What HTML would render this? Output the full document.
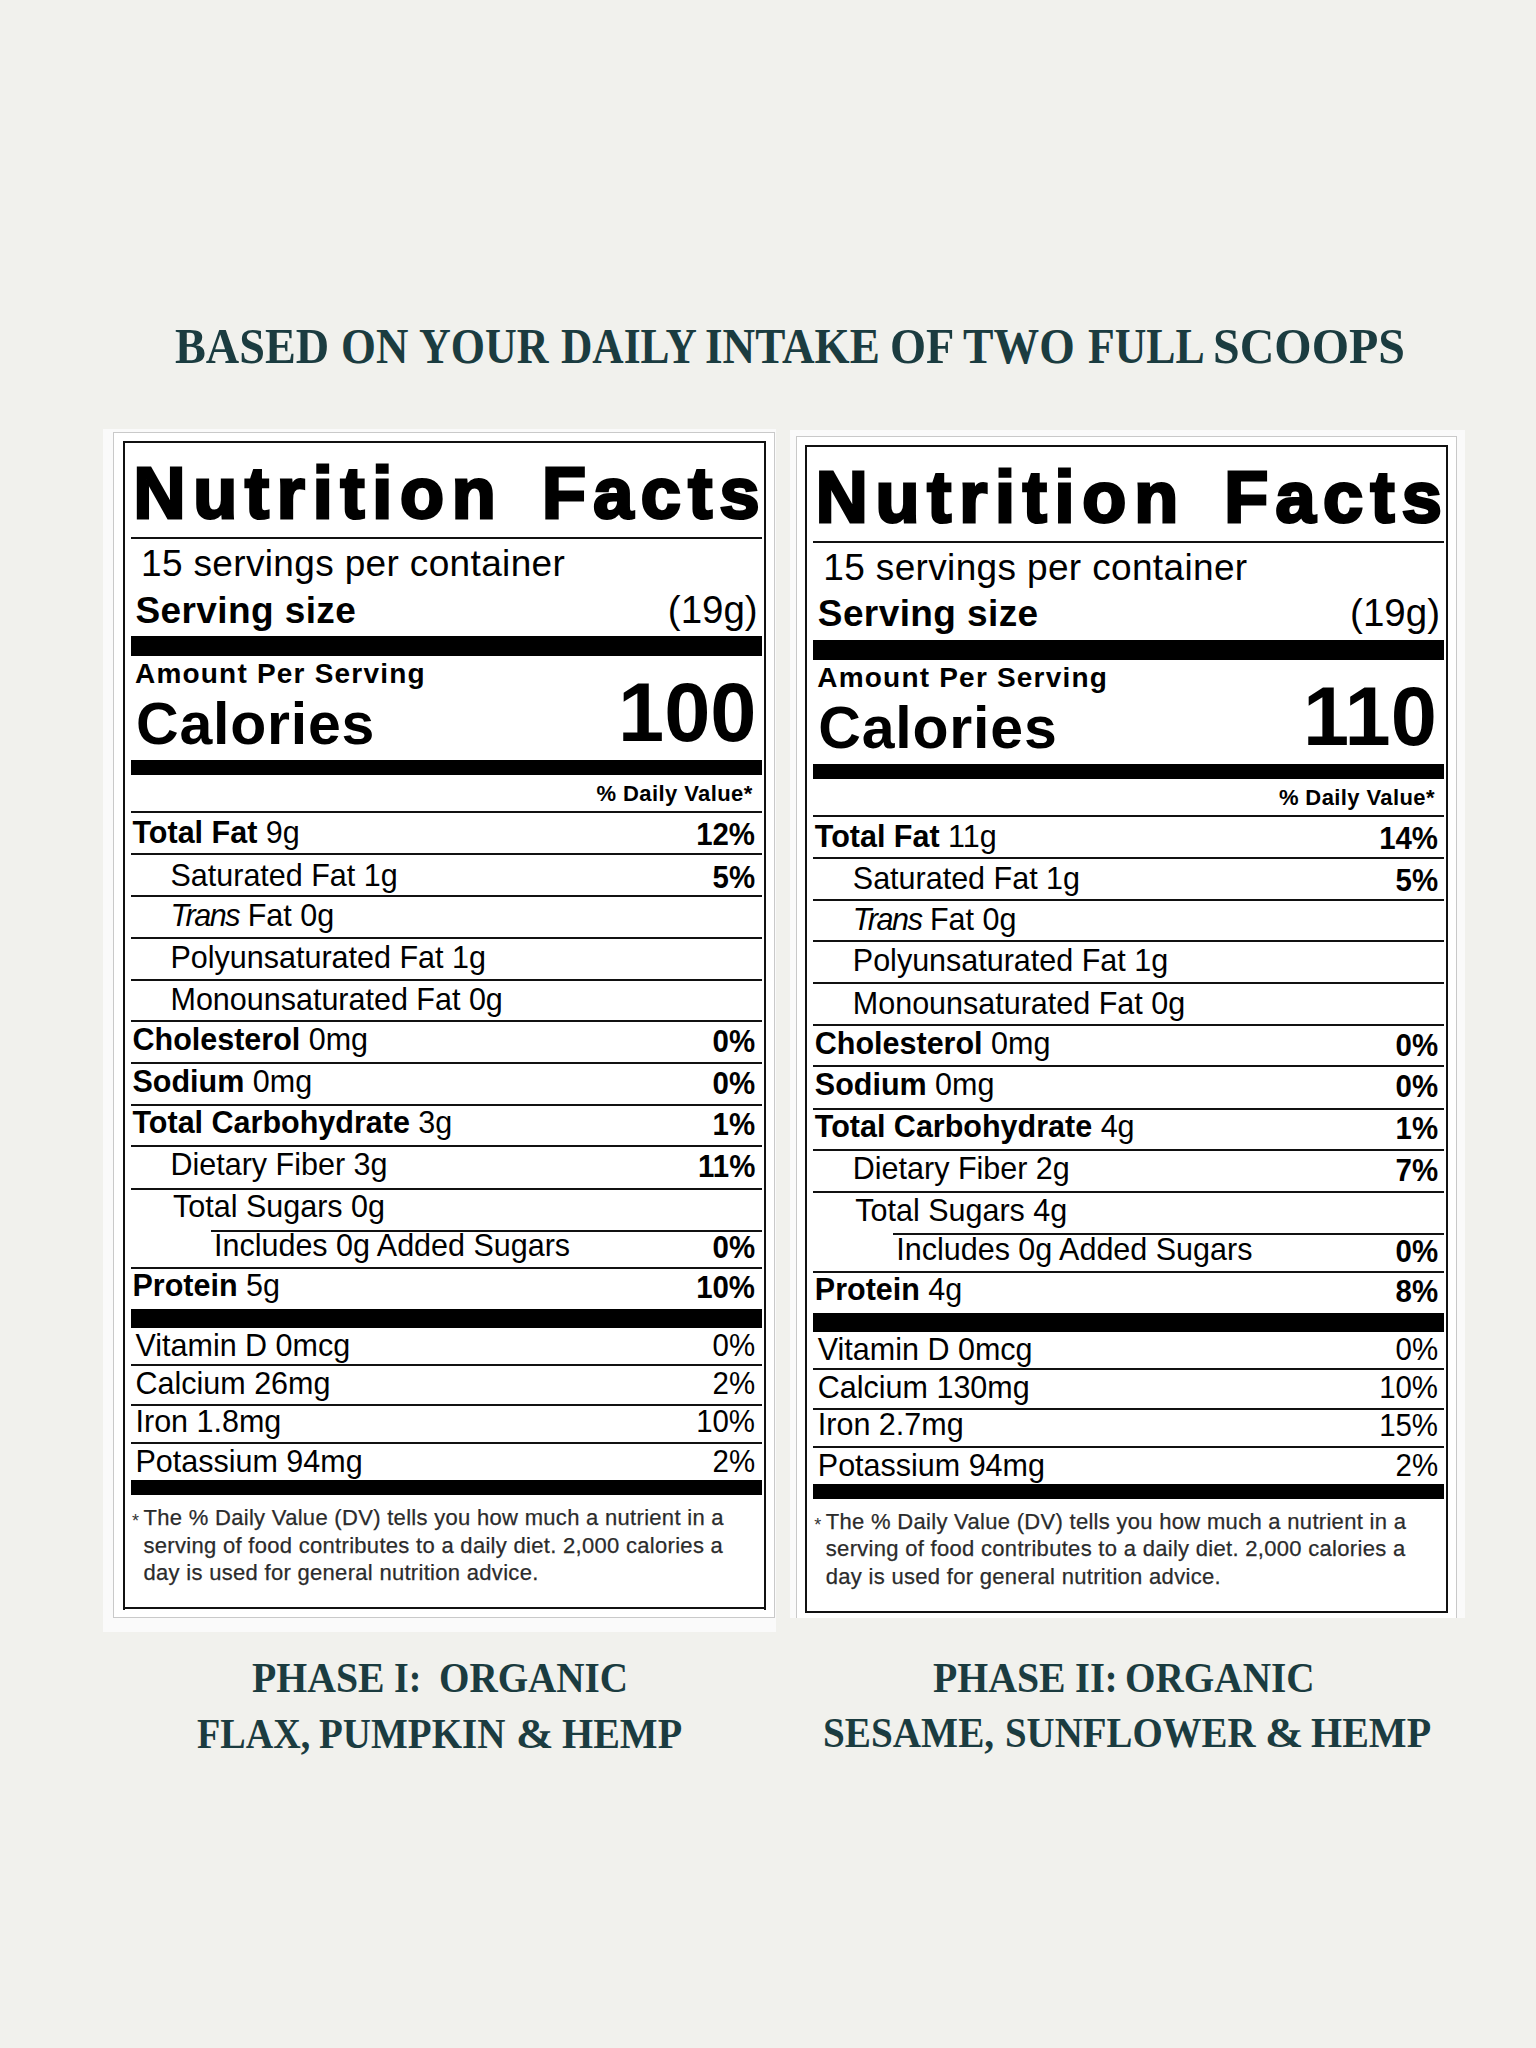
<!DOCTYPE html>
<html><head><meta charset="utf-8"><style>
html,body{margin:0;padding:0;}
body{width:1536px;height:2048px;background:#f1f1ed;position:relative;overflow:hidden;}
b{font-weight:bold;}
i{letter-spacing:-1.4px;}
</style></head><body>
<div style="position:absolute;left:103px;top:429px;width:673px;height:1203px;background:#fafafa;"></div>
<div style="position:absolute;left:113px;top:432px;width:662px;height:1186px;background:transparent;box-sizing:border-box;border:1.5px solid #c9c9c9;background:#fff;"></div>
<div style="position:absolute;left:789.5px;top:429.5px;width:675px;height:1188.5px;background:#fafafa;"></div>
<div style="position:absolute;left:795.5px;top:435.5px;width:661.5px;height:1182.5px;background:transparent;box-sizing:border-box;border:1.5px solid #c9c9c9;border-bottom:none;background:#fff;"></div>
<div style="position:absolute;left:122.5px;top:441px;width:643.5px;height:2.3px;background:#111;"></div>
<div style="position:absolute;left:122.5px;top:1607.2px;width:643.5px;height:2.3px;background:#111;"></div>
<div style="position:absolute;left:122.5px;top:441px;width:2.3px;height:1168.5px;background:#111;"></div>
<div style="position:absolute;left:763.7px;top:441px;width:2.3px;height:1168.5px;background:#111;"></div>
<div style="position:absolute;left:133.5px;top:457.20px;font-family:'Liberation Sans', sans-serif;font-size:72px;line-height:1;font-weight:bold;color:#000;white-space:pre;-webkit-text-stroke:3px #000;letter-spacing:7.8px;">Nutrition</div>
<div style="position:absolute;right:769px;top:457.20px;font-family:'Liberation Sans', sans-serif;font-size:72px;line-height:1;font-weight:bold;color:#000;white-space:pre;-webkit-text-stroke:3px #000;letter-spacing:7.4px;">Facts</div>
<div style="position:absolute;left:130.7px;top:536.7px;width:631.0px;height:2.0px;background:#111;"></div>
<div style="position:absolute;left:141px;top:545.15px;font-family:'Liberation Sans', sans-serif;font-size:37px;line-height:1;font-weight:normal;color:#000;white-space:pre;letter-spacing:0.35px;">15 servings per container</div>
<div style="position:absolute;left:135.5px;top:591.55px;font-family:'Liberation Sans', sans-serif;font-size:37px;line-height:1;font-weight:bold;color:#000;white-space:pre;letter-spacing:0.4px;">Serving size</div>
<div style="position:absolute;right:778.3px;top:590.57px;font-family:'Liberation Sans', sans-serif;font-size:38.5px;line-height:1;font-weight:normal;color:#000;white-space:pre;">(19g)</div>
<div style="position:absolute;left:130.7px;top:636.2px;width:631.0px;height:19.5px;background:#000;"></div>
<div style="position:absolute;left:135px;top:659.80px;font-family:'Liberation Sans', sans-serif;font-size:28px;line-height:1;font-weight:bold;color:#000;white-space:pre;letter-spacing:1.2px;">Amount Per Serving</div>
<div style="position:absolute;left:136px;top:695.35px;font-family:'Liberation Sans', sans-serif;font-size:59px;line-height:1;font-weight:bold;color:#000;white-space:pre;letter-spacing:0.8px;">Calories</div>
<div style="position:absolute;right:779.5px;top:670.85px;font-family:'Liberation Sans', sans-serif;font-size:83px;line-height:1;font-weight:bold;color:#000;white-space:pre;">100</div>
<div style="position:absolute;left:130.7px;top:760px;width:631.0px;height:15.399999999999977px;background:#000;"></div>
<div style="position:absolute;right:783.4px;top:782.70px;font-family:'Liberation Sans', sans-serif;font-size:22px;line-height:1;font-weight:bold;color:#000;white-space:pre;letter-spacing:0.4px;">% Daily Value*</div>
<div style="position:absolute;left:130.7px;top:811.3px;width:631.0px;height:2.0px;background:#111;"></div>
<div style="position:absolute;left:130.7px;top:853.2px;width:631.0px;height:2.0px;background:#111;"></div>
<div style="position:absolute;left:130.7px;top:894.9px;width:631.0px;height:2.0px;background:#111;"></div>
<div style="position:absolute;left:130.7px;top:936.6px;width:631.0px;height:2.0px;background:#111;"></div>
<div style="position:absolute;left:130.7px;top:978.6px;width:631.0px;height:2.0px;background:#111;"></div>
<div style="position:absolute;left:130.7px;top:1020.4px;width:631.0px;height:2.0px;background:#111;"></div>
<div style="position:absolute;left:130.7px;top:1061.5px;width:631.0px;height:2.0px;background:#111;"></div>
<div style="position:absolute;left:130.7px;top:1103.8px;width:631.0px;height:2.0px;background:#111;"></div>
<div style="position:absolute;left:130.7px;top:1145.3px;width:631.0px;height:2.0px;background:#111;"></div>
<div style="position:absolute;left:130.7px;top:1187.6px;width:631.0px;height:2.0px;background:#111;"></div>
<div style="position:absolute;left:211px;top:1229.5px;width:550.7px;height:2.0px;background:#111;"></div>
<div style="position:absolute;left:130.7px;top:1267.0px;width:631.0px;height:2.0px;background:#111;"></div>
<div style="position:absolute;left:130.7px;top:1309.1px;width:631.0px;height:19.0px;background:#000;"></div>
<div style="position:absolute;left:130.7px;top:1364.2px;width:631.0px;height:2.0px;background:#111;"></div>
<div style="position:absolute;left:130.7px;top:1404.4px;width:631.0px;height:2.0px;background:#111;"></div>
<div style="position:absolute;left:130.7px;top:1441.8px;width:631.0px;height:2.0px;background:#111;"></div>
<div style="position:absolute;left:130.7px;top:1480.2px;width:631.0px;height:15.099999999999909px;background:#000;"></div>
<div style="position:absolute;left:132.5px;top:817.38px;font-family:'Liberation Sans', sans-serif;font-size:30.5px;line-height:1;font-weight:normal;color:#000;white-space:pre;"><b>Total Fat</b> 9g</div>
<div style="position:absolute;right:780.5px;top:819.38px;font-family:'Liberation Sans', sans-serif;font-size:30.5px;line-height:1;font-weight:bold;color:#000;white-space:pre;transform:scaleX(0.965);transform-origin:right top;">12%</div>
<div style="position:absolute;left:170.5px;top:859.58px;font-family:'Liberation Sans', sans-serif;font-size:30.5px;line-height:1;font-weight:normal;color:#000;white-space:pre;">Saturated Fat 1g</div>
<div style="position:absolute;right:780.5px;top:861.58px;font-family:'Liberation Sans', sans-serif;font-size:30.5px;line-height:1;font-weight:bold;color:#000;white-space:pre;transform:scaleX(0.965);transform-origin:right top;">5%</div>
<div style="position:absolute;left:170.5px;top:899.98px;font-family:'Liberation Sans', sans-serif;font-size:30.5px;line-height:1;font-weight:normal;color:#000;white-space:pre;"><i>Trans</i> Fat 0g</div>
<div style="position:absolute;left:170.5px;top:941.68px;font-family:'Liberation Sans', sans-serif;font-size:30.5px;line-height:1;font-weight:normal;color:#000;white-space:pre;">Polyunsaturated Fat 1g</div>
<div style="position:absolute;left:170.5px;top:984.08px;font-family:'Liberation Sans', sans-serif;font-size:30.5px;line-height:1;font-weight:normal;color:#000;white-space:pre;">Monounsaturated Fat 0g</div>
<div style="position:absolute;left:132.5px;top:1024.38px;font-family:'Liberation Sans', sans-serif;font-size:30.5px;line-height:1;font-weight:normal;color:#000;white-space:pre;"><b>Cholesterol</b> 0mg</div>
<div style="position:absolute;right:780.5px;top:1026.38px;font-family:'Liberation Sans', sans-serif;font-size:30.5px;line-height:1;font-weight:bold;color:#000;white-space:pre;transform:scaleX(0.965);transform-origin:right top;">0%</div>
<div style="position:absolute;left:132.5px;top:1065.67px;font-family:'Liberation Sans', sans-serif;font-size:30.5px;line-height:1;font-weight:normal;color:#000;white-space:pre;"><b>Sodium</b> 0mg</div>
<div style="position:absolute;right:780.5px;top:1067.67px;font-family:'Liberation Sans', sans-serif;font-size:30.5px;line-height:1;font-weight:bold;color:#000;white-space:pre;transform:scaleX(0.965);transform-origin:right top;">0%</div>
<div style="position:absolute;left:132.5px;top:1107.38px;font-family:'Liberation Sans', sans-serif;font-size:30.5px;line-height:1;font-weight:normal;color:#000;white-space:pre;"><b>Total Carbohydrate</b> 3g</div>
<div style="position:absolute;right:780.5px;top:1109.38px;font-family:'Liberation Sans', sans-serif;font-size:30.5px;line-height:1;font-weight:bold;color:#000;white-space:pre;transform:scaleX(0.965);transform-origin:right top;">1%</div>
<div style="position:absolute;left:170.5px;top:1149.38px;font-family:'Liberation Sans', sans-serif;font-size:30.5px;line-height:1;font-weight:normal;color:#000;white-space:pre;">Dietary Fiber 3g</div>
<div style="position:absolute;right:780.5px;top:1151.38px;font-family:'Liberation Sans', sans-serif;font-size:30.5px;line-height:1;font-weight:bold;color:#000;white-space:pre;transform:scaleX(0.965);transform-origin:right top;">11%</div>
<div style="position:absolute;left:170.5px;top:1191.08px;font-family:'Liberation Sans', sans-serif;font-size:30.5px;line-height:1;font-weight:normal;color:#000;white-space:pre;"><span style="margin-left:2.5px"></span>Total Sugars 0g</div>
<div style="position:absolute;left:214px;top:1230.08px;font-family:'Liberation Sans', sans-serif;font-size:30.5px;line-height:1;font-weight:normal;color:#000;white-space:pre;">Includes 0g Added Sugars</div>
<div style="position:absolute;right:780.5px;top:1232.08px;font-family:'Liberation Sans', sans-serif;font-size:30.5px;line-height:1;font-weight:bold;color:#000;white-space:pre;transform:scaleX(0.965);transform-origin:right top;">0%</div>
<div style="position:absolute;left:132.5px;top:1270.08px;font-family:'Liberation Sans', sans-serif;font-size:30.5px;line-height:1;font-weight:normal;color:#000;white-space:pre;"><b>Protein</b> 5g</div>
<div style="position:absolute;right:780.5px;top:1272.08px;font-family:'Liberation Sans', sans-serif;font-size:30.5px;line-height:1;font-weight:bold;color:#000;white-space:pre;transform:scaleX(0.965);transform-origin:right top;">10%</div>
<div style="position:absolute;left:135.5px;top:1330.08px;font-family:'Liberation Sans', sans-serif;font-size:30.5px;line-height:1;font-weight:normal;color:#000;white-space:pre;">Vitamin D 0mcg</div>
<div style="position:absolute;right:780.5px;top:1330.38px;font-family:'Liberation Sans', sans-serif;font-size:30.5px;line-height:1;font-weight:normal;color:#000;white-space:pre;transform:scaleX(0.965);transform-origin:right top;">0%</div>
<div style="position:absolute;left:135.5px;top:1367.88px;font-family:'Liberation Sans', sans-serif;font-size:30.5px;line-height:1;font-weight:normal;color:#000;white-space:pre;">Calcium 26mg</div>
<div style="position:absolute;right:780.5px;top:1368.17px;font-family:'Liberation Sans', sans-serif;font-size:30.5px;line-height:1;font-weight:normal;color:#000;white-space:pre;transform:scaleX(0.965);transform-origin:right top;">2%</div>
<div style="position:absolute;left:135.5px;top:1405.58px;font-family:'Liberation Sans', sans-serif;font-size:30.5px;line-height:1;font-weight:normal;color:#000;white-space:pre;">Iron 1.8mg</div>
<div style="position:absolute;right:780.5px;top:1405.88px;font-family:'Liberation Sans', sans-serif;font-size:30.5px;line-height:1;font-weight:normal;color:#000;white-space:pre;transform:scaleX(0.965);transform-origin:right top;">10%</div>
<div style="position:absolute;left:135.5px;top:1445.98px;font-family:'Liberation Sans', sans-serif;font-size:30.5px;line-height:1;font-weight:normal;color:#000;white-space:pre;">Potassium 94mg</div>
<div style="position:absolute;right:780.5px;top:1446.28px;font-family:'Liberation Sans', sans-serif;font-size:30.5px;line-height:1;font-weight:normal;color:#000;white-space:pre;transform:scaleX(0.965);transform-origin:right top;">2%</div>
<div style="position:absolute;left:132px;top:1511.70px;font-family:'Liberation Sans', sans-serif;font-size:18px;line-height:1;font-weight:normal;color:#333;white-space:pre;">*</div>
<div style="position:absolute;left:143.5px;top:1506.70px;font-family:'Liberation Sans', sans-serif;font-size:22px;line-height:1;font-weight:normal;color:#2b2b2b;white-space:pre;letter-spacing:0.3px;-webkit-text-stroke:0.25px #2b2b2b;">The % Daily Value (DV) tells you how much a nutrient in a</div>
<div style="position:absolute;left:143.5px;top:1534.60px;font-family:'Liberation Sans', sans-serif;font-size:22px;line-height:1;font-weight:normal;color:#2b2b2b;white-space:pre;letter-spacing:0.3px;-webkit-text-stroke:0.25px #2b2b2b;">serving of food contributes to a daily diet. 2,000 calories a</div>
<div style="position:absolute;left:143.5px;top:1562.30px;font-family:'Liberation Sans', sans-serif;font-size:22px;line-height:1;font-weight:normal;color:#2b2b2b;white-space:pre;letter-spacing:0.3px;-webkit-text-stroke:0.25px #2b2b2b;">day is used for general nutrition advice.</div>
<div style="position:absolute;left:804.8px;top:444.8px;width:643.5px;height:2.3px;background:#111;"></div>
<div style="position:absolute;left:804.8px;top:1611.0px;width:643.5px;height:2.3px;background:#111;"></div>
<div style="position:absolute;left:804.8px;top:444.8px;width:2.3px;height:1168.5px;background:#111;"></div>
<div style="position:absolute;left:1446.0px;top:444.8px;width:2.3px;height:1168.5px;background:#111;"></div>
<div style="position:absolute;left:815.8px;top:461.00px;font-family:'Liberation Sans', sans-serif;font-size:72px;line-height:1;font-weight:bold;color:#000;white-space:pre;-webkit-text-stroke:3px #000;letter-spacing:7.8px;">Nutrition</div>
<div style="position:absolute;right:86.70000000000005px;top:461.00px;font-family:'Liberation Sans', sans-serif;font-size:72px;line-height:1;font-weight:bold;color:#000;white-space:pre;-webkit-text-stroke:3px #000;letter-spacing:7.4px;">Facts</div>
<div style="position:absolute;left:813.0px;top:540.5px;width:631.0px;height:2.0px;background:#111;"></div>
<div style="position:absolute;left:823.3px;top:548.95px;font-family:'Liberation Sans', sans-serif;font-size:37px;line-height:1;font-weight:normal;color:#000;white-space:pre;letter-spacing:0.35px;">15 servings per container</div>
<div style="position:absolute;left:817.8px;top:595.35px;font-family:'Liberation Sans', sans-serif;font-size:37px;line-height:1;font-weight:bold;color:#000;white-space:pre;letter-spacing:0.4px;">Serving size</div>
<div style="position:absolute;right:96.0px;top:594.37px;font-family:'Liberation Sans', sans-serif;font-size:38.5px;line-height:1;font-weight:normal;color:#000;white-space:pre;">(19g)</div>
<div style="position:absolute;left:813.0px;top:640.0px;width:631.0px;height:19.5px;background:#000;"></div>
<div style="position:absolute;left:817.3px;top:663.60px;font-family:'Liberation Sans', sans-serif;font-size:28px;line-height:1;font-weight:bold;color:#000;white-space:pre;letter-spacing:1.2px;">Amount Per Serving</div>
<div style="position:absolute;left:818.3px;top:699.15px;font-family:'Liberation Sans', sans-serif;font-size:59px;line-height:1;font-weight:bold;color:#000;white-space:pre;letter-spacing:0.8px;">Calories</div>
<div style="position:absolute;right:99.20000000000005px;top:674.65px;font-family:'Liberation Sans', sans-serif;font-size:83px;line-height:1;font-weight:bold;color:#000;white-space:pre;">110</div>
<div style="position:absolute;left:813.0px;top:763.8px;width:631.0px;height:15.399999999999977px;background:#000;"></div>
<div style="position:absolute;right:101.09999999999991px;top:786.50px;font-family:'Liberation Sans', sans-serif;font-size:22px;line-height:1;font-weight:bold;color:#000;white-space:pre;letter-spacing:0.4px;">% Daily Value*</div>
<div style="position:absolute;left:813.0px;top:815.0999999999999px;width:631.0px;height:2.0px;background:#111;"></div>
<div style="position:absolute;left:813.0px;top:857.0px;width:631.0px;height:2.0px;background:#111;"></div>
<div style="position:absolute;left:813.0px;top:898.6999999999999px;width:631.0px;height:2.0px;background:#111;"></div>
<div style="position:absolute;left:813.0px;top:940.4px;width:631.0px;height:2.0px;background:#111;"></div>
<div style="position:absolute;left:813.0px;top:982.4px;width:631.0px;height:2.0px;background:#111;"></div>
<div style="position:absolute;left:813.0px;top:1024.2px;width:631.0px;height:2.0px;background:#111;"></div>
<div style="position:absolute;left:813.0px;top:1065.3px;width:631.0px;height:2.0px;background:#111;"></div>
<div style="position:absolute;left:813.0px;top:1107.6px;width:631.0px;height:2.0px;background:#111;"></div>
<div style="position:absolute;left:813.0px;top:1149.1px;width:631.0px;height:2.0px;background:#111;"></div>
<div style="position:absolute;left:813.0px;top:1191.3999999999999px;width:631.0px;height:2.0px;background:#111;"></div>
<div style="position:absolute;left:893.3px;top:1233.3px;width:550.7px;height:2.0px;background:#111;"></div>
<div style="position:absolute;left:813.0px;top:1270.8px;width:631.0px;height:2.0px;background:#111;"></div>
<div style="position:absolute;left:813.0px;top:1312.8999999999999px;width:631.0px;height:19.0px;background:#000;"></div>
<div style="position:absolute;left:813.0px;top:1368.0px;width:631.0px;height:2.0px;background:#111;"></div>
<div style="position:absolute;left:813.0px;top:1408.2px;width:631.0px;height:2.0px;background:#111;"></div>
<div style="position:absolute;left:813.0px;top:1445.6px;width:631.0px;height:2.0px;background:#111;"></div>
<div style="position:absolute;left:813.0px;top:1484.0px;width:631.0px;height:15.099999999999909px;background:#000;"></div>
<div style="position:absolute;left:814.8px;top:821.17px;font-family:'Liberation Sans', sans-serif;font-size:30.5px;line-height:1;font-weight:normal;color:#000;white-space:pre;"><b>Total Fat</b> 11g</div>
<div style="position:absolute;right:98.20000000000005px;top:823.17px;font-family:'Liberation Sans', sans-serif;font-size:30.5px;line-height:1;font-weight:bold;color:#000;white-space:pre;transform:scaleX(0.965);transform-origin:right top;">14%</div>
<div style="position:absolute;left:852.8px;top:863.38px;font-family:'Liberation Sans', sans-serif;font-size:30.5px;line-height:1;font-weight:normal;color:#000;white-space:pre;">Saturated Fat 1g</div>
<div style="position:absolute;right:98.20000000000005px;top:865.38px;font-family:'Liberation Sans', sans-serif;font-size:30.5px;line-height:1;font-weight:bold;color:#000;white-space:pre;transform:scaleX(0.965);transform-origin:right top;">5%</div>
<div style="position:absolute;left:852.8px;top:903.77px;font-family:'Liberation Sans', sans-serif;font-size:30.5px;line-height:1;font-weight:normal;color:#000;white-space:pre;"><i>Trans</i> Fat 0g</div>
<div style="position:absolute;left:852.8px;top:945.48px;font-family:'Liberation Sans', sans-serif;font-size:30.5px;line-height:1;font-weight:normal;color:#000;white-space:pre;">Polyunsaturated Fat 1g</div>
<div style="position:absolute;left:852.8px;top:987.88px;font-family:'Liberation Sans', sans-serif;font-size:30.5px;line-height:1;font-weight:normal;color:#000;white-space:pre;">Monounsaturated Fat 0g</div>
<div style="position:absolute;left:814.8px;top:1028.17px;font-family:'Liberation Sans', sans-serif;font-size:30.5px;line-height:1;font-weight:normal;color:#000;white-space:pre;"><b>Cholesterol</b> 0mg</div>
<div style="position:absolute;right:98.20000000000005px;top:1030.17px;font-family:'Liberation Sans', sans-serif;font-size:30.5px;line-height:1;font-weight:bold;color:#000;white-space:pre;transform:scaleX(0.965);transform-origin:right top;">0%</div>
<div style="position:absolute;left:814.8px;top:1069.47px;font-family:'Liberation Sans', sans-serif;font-size:30.5px;line-height:1;font-weight:normal;color:#000;white-space:pre;"><b>Sodium</b> 0mg</div>
<div style="position:absolute;right:98.20000000000005px;top:1071.47px;font-family:'Liberation Sans', sans-serif;font-size:30.5px;line-height:1;font-weight:bold;color:#000;white-space:pre;transform:scaleX(0.965);transform-origin:right top;">0%</div>
<div style="position:absolute;left:814.8px;top:1111.17px;font-family:'Liberation Sans', sans-serif;font-size:30.5px;line-height:1;font-weight:normal;color:#000;white-space:pre;"><b>Total Carbohydrate</b> 4g</div>
<div style="position:absolute;right:98.20000000000005px;top:1113.17px;font-family:'Liberation Sans', sans-serif;font-size:30.5px;line-height:1;font-weight:bold;color:#000;white-space:pre;transform:scaleX(0.965);transform-origin:right top;">1%</div>
<div style="position:absolute;left:852.8px;top:1153.17px;font-family:'Liberation Sans', sans-serif;font-size:30.5px;line-height:1;font-weight:normal;color:#000;white-space:pre;">Dietary Fiber 2g</div>
<div style="position:absolute;right:98.20000000000005px;top:1155.17px;font-family:'Liberation Sans', sans-serif;font-size:30.5px;line-height:1;font-weight:bold;color:#000;white-space:pre;transform:scaleX(0.965);transform-origin:right top;">7%</div>
<div style="position:absolute;left:852.8px;top:1194.88px;font-family:'Liberation Sans', sans-serif;font-size:30.5px;line-height:1;font-weight:normal;color:#000;white-space:pre;"><span style="margin-left:2.5px"></span>Total Sugars 4g</div>
<div style="position:absolute;left:896.3px;top:1233.88px;font-family:'Liberation Sans', sans-serif;font-size:30.5px;line-height:1;font-weight:normal;color:#000;white-space:pre;">Includes 0g Added Sugars</div>
<div style="position:absolute;right:98.20000000000005px;top:1235.88px;font-family:'Liberation Sans', sans-serif;font-size:30.5px;line-height:1;font-weight:bold;color:#000;white-space:pre;transform:scaleX(0.965);transform-origin:right top;">0%</div>
<div style="position:absolute;left:814.8px;top:1273.88px;font-family:'Liberation Sans', sans-serif;font-size:30.5px;line-height:1;font-weight:normal;color:#000;white-space:pre;"><b>Protein</b> 4g</div>
<div style="position:absolute;right:98.20000000000005px;top:1275.88px;font-family:'Liberation Sans', sans-serif;font-size:30.5px;line-height:1;font-weight:bold;color:#000;white-space:pre;transform:scaleX(0.965);transform-origin:right top;">8%</div>
<div style="position:absolute;left:817.8px;top:1333.88px;font-family:'Liberation Sans', sans-serif;font-size:30.5px;line-height:1;font-weight:normal;color:#000;white-space:pre;">Vitamin D 0mcg</div>
<div style="position:absolute;right:98.20000000000005px;top:1334.17px;font-family:'Liberation Sans', sans-serif;font-size:30.5px;line-height:1;font-weight:normal;color:#000;white-space:pre;transform:scaleX(0.965);transform-origin:right top;">0%</div>
<div style="position:absolute;left:817.8px;top:1371.67px;font-family:'Liberation Sans', sans-serif;font-size:30.5px;line-height:1;font-weight:normal;color:#000;white-space:pre;">Calcium 130mg</div>
<div style="position:absolute;right:98.20000000000005px;top:1371.97px;font-family:'Liberation Sans', sans-serif;font-size:30.5px;line-height:1;font-weight:normal;color:#000;white-space:pre;transform:scaleX(0.965);transform-origin:right top;">10%</div>
<div style="position:absolute;left:817.8px;top:1409.38px;font-family:'Liberation Sans', sans-serif;font-size:30.5px;line-height:1;font-weight:normal;color:#000;white-space:pre;">Iron 2.7mg</div>
<div style="position:absolute;right:98.20000000000005px;top:1409.67px;font-family:'Liberation Sans', sans-serif;font-size:30.5px;line-height:1;font-weight:normal;color:#000;white-space:pre;transform:scaleX(0.965);transform-origin:right top;">15%</div>
<div style="position:absolute;left:817.8px;top:1449.78px;font-family:'Liberation Sans', sans-serif;font-size:30.5px;line-height:1;font-weight:normal;color:#000;white-space:pre;">Potassium 94mg</div>
<div style="position:absolute;right:98.20000000000005px;top:1450.08px;font-family:'Liberation Sans', sans-serif;font-size:30.5px;line-height:1;font-weight:normal;color:#000;white-space:pre;transform:scaleX(0.965);transform-origin:right top;">2%</div>
<div style="position:absolute;left:814.3px;top:1515.50px;font-family:'Liberation Sans', sans-serif;font-size:18px;line-height:1;font-weight:normal;color:#333;white-space:pre;">*</div>
<div style="position:absolute;left:825.8px;top:1510.50px;font-family:'Liberation Sans', sans-serif;font-size:22px;line-height:1;font-weight:normal;color:#2b2b2b;white-space:pre;letter-spacing:0.3px;-webkit-text-stroke:0.25px #2b2b2b;">The % Daily Value (DV) tells you how much a nutrient in a</div>
<div style="position:absolute;left:825.8px;top:1538.40px;font-family:'Liberation Sans', sans-serif;font-size:22px;line-height:1;font-weight:normal;color:#2b2b2b;white-space:pre;letter-spacing:0.3px;-webkit-text-stroke:0.25px #2b2b2b;">serving of food contributes to a daily diet. 2,000 calories a</div>
<div style="position:absolute;left:825.8px;top:1566.10px;font-family:'Liberation Sans', sans-serif;font-size:22px;line-height:1;font-weight:normal;color:#2b2b2b;white-space:pre;letter-spacing:0.3px;-webkit-text-stroke:0.25px #2b2b2b;">day is used for general nutrition advice.</div>
<div style="position:absolute;left:175.27px;top:321.00px;font-family:'Liberation Serif', serif;font-size:50px;line-height:1;font-weight:bold;color:#1b3c40;white-space:pre;transform:scaleX(0.9252);transform-origin:left top;">BASED</div>
<div style="position:absolute;left:340.71px;top:321.00px;font-family:'Liberation Serif', serif;font-size:50px;line-height:1;font-weight:bold;color:#1b3c40;white-space:pre;transform:scaleX(0.8973);transform-origin:left top;">ON</div>
<div style="position:absolute;left:419.32px;top:321.00px;font-family:'Liberation Serif', serif;font-size:50px;line-height:1;font-weight:bold;color:#1b3c40;white-space:pre;transform:scaleX(0.8803);transform-origin:left top;">YOUR</div>
<div style="position:absolute;left:560.73px;top:321.00px;font-family:'Liberation Serif', serif;font-size:50px;line-height:1;font-weight:bold;color:#1b3c40;white-space:pre;transform:scaleX(0.8684);transform-origin:left top;">DAILY</div>
<div style="position:absolute;left:705.49px;top:321.00px;font-family:'Liberation Serif', serif;font-size:50px;line-height:1;font-weight:bold;color:#1b3c40;white-space:pre;transform:scaleX(0.9032);transform-origin:left top;">INTAKE</div>
<div style="position:absolute;left:890.04px;top:321.00px;font-family:'Liberation Serif', serif;font-size:50px;line-height:1;font-weight:bold;color:#1b3c40;white-space:pre;transform:scaleX(0.9277);transform-origin:left top;">OF</div>
<div style="position:absolute;left:963.39px;top:321.00px;font-family:'Liberation Serif', serif;font-size:50px;line-height:1;font-weight:bold;color:#1b3c40;white-space:pre;transform:scaleX(0.9134);transform-origin:left top;">TWO</div>
<div style="position:absolute;left:1087.52px;top:321.00px;font-family:'Liberation Serif', serif;font-size:50px;line-height:1;font-weight:bold;color:#1b3c40;white-space:pre;transform:scaleX(0.8754);transform-origin:left top;">FULL</div>
<div style="position:absolute;left:1212.62px;top:321.00px;font-family:'Liberation Serif', serif;font-size:50px;line-height:1;font-weight:bold;color:#1b3c40;white-space:pre;transform:scaleX(0.9600);transform-origin:left top;">SCOOPS</div>
<div style="position:absolute;left:252.05px;top:1657.20px;font-family:'Liberation Serif', serif;font-size:42px;line-height:1;font-weight:bold;color:#1b3c40;white-space:pre;transform:scaleX(0.9467);transform-origin:left top;">PHASE</div>
<div style="position:absolute;left:394.10px;top:1657.20px;font-family:'Liberation Serif', serif;font-size:42px;line-height:1;font-weight:bold;color:#1b3c40;white-space:pre;transform:scaleX(0.9000);transform-origin:left top;">I:</div>
<div style="position:absolute;left:438.64px;top:1657.20px;font-family:'Liberation Serif', serif;font-size:42px;line-height:1;font-weight:bold;color:#1b3c40;white-space:pre;transform:scaleX(0.9313);transform-origin:left top;">ORGANIC</div>
<div style="position:absolute;left:197.19px;top:1712.60px;font-family:'Liberation Serif', serif;font-size:42px;line-height:1;font-weight:bold;color:#1b3c40;white-space:pre;transform:scaleX(0.9074);transform-origin:left top;">FLAX,</div>
<div style="position:absolute;left:319.27px;top:1712.60px;font-family:'Liberation Serif', serif;font-size:42px;line-height:1;font-weight:bold;color:#1b3c40;white-space:pre;transform:scaleX(0.9291);transform-origin:left top;">PUMPKIN</div>
<div style="position:absolute;left:515.96px;top:1712.60px;font-family:'Liberation Serif', serif;font-size:42px;line-height:1;font-weight:bold;color:#1b3c40;white-space:pre;transform:scaleX(1.0710);transform-origin:left top;">&amp;</div>
<div style="position:absolute;left:561.75px;top:1712.60px;font-family:'Liberation Serif', serif;font-size:42px;line-height:1;font-weight:bold;color:#1b3c40;white-space:pre;transform:scaleX(0.9532);transform-origin:left top;">HEMP</div>
<div style="position:absolute;left:932.55px;top:1657.20px;font-family:'Liberation Serif', serif;font-size:42px;line-height:1;font-weight:bold;color:#1b3c40;white-space:pre;transform:scaleX(0.9467);transform-origin:left top;">PHASE</div>
<div style="position:absolute;left:1074.79px;top:1657.20px;font-family:'Liberation Serif', serif;font-size:42px;line-height:1;font-weight:bold;color:#1b3c40;white-space:pre;transform:scaleX(0.9119);transform-origin:left top;">II:</div>
<div style="position:absolute;left:1125.13px;top:1657.20px;font-family:'Liberation Serif', serif;font-size:42px;line-height:1;font-weight:bold;color:#1b3c40;white-space:pre;transform:scaleX(0.9338);transform-origin:left top;">ORGANIC</div>
<div style="position:absolute;left:823.43px;top:1712.40px;font-family:'Liberation Serif', serif;font-size:42px;line-height:1;font-weight:bold;color:#1b3c40;white-space:pre;transform:scaleX(0.9339);transform-origin:left top;">SESAME,</div>
<div style="position:absolute;left:1005.15px;top:1712.40px;font-family:'Liberation Serif', serif;font-size:42px;line-height:1;font-weight:bold;color:#1b3c40;white-space:pre;transform:scaleX(0.9253);transform-origin:left top;">SUNFLOWER</div>
<div style="position:absolute;left:1264.81px;top:1712.40px;font-family:'Liberation Serif', serif;font-size:42px;line-height:1;font-weight:bold;color:#1b3c40;white-space:pre;transform:scaleX(1.0968);transform-origin:left top;">&amp;</div>
<div style="position:absolute;left:1311.15px;top:1712.40px;font-family:'Liberation Serif', serif;font-size:42px;line-height:1;font-weight:bold;color:#1b3c40;white-space:pre;transform:scaleX(0.9532);transform-origin:left top;">HEMP</div>
</body></html>
